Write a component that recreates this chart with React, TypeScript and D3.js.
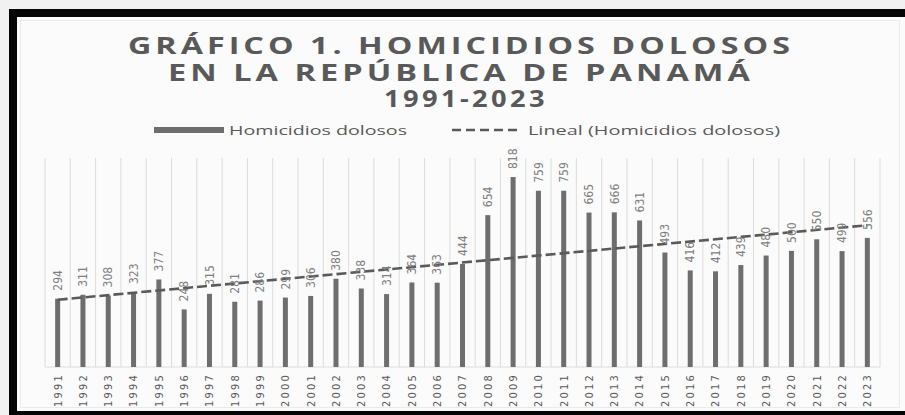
import { useMemo } from "react";
import * as d3 from "d3";

// Years and yearly counts
const years = [
  "1991", "1992", "1993", "1994", "1995", "1996", "1997", "1998", "1999", "2000",
  "2001", "2002", "2003", "2004", "2005", "2006", "2007", "2008", "2009", "2010",
  "2011", "2012", "2013", "2014", "2015", "2016", "2017", "2018", "2019", "2020",
  "2021", "2022", "2023",
];
const homicidios = [
  294, 311, 308, 323, 377, 248, 315, 281, 286, 299,
  306, 380, 338, 314, 364, 363, 444, 654, 818, 759,
  759, 665, 666, 631, 493, 416, 412, 439, 480, 500,
  550, 499, 556,
];
const titleLines = [
  "GRÁFICO 1. HOMICIDIOS DOLOSOS",
  "EN LA REPÚBLICA DE PANAMÁ",
  "1991-2023",
];
const legendLabels = ["Homicidios dolosos", "Lineal (Homicidios dolosos)"];

const W = 905;
const H = 415;
const plot = { left: 45, right: 880, top: 158, bottom: 367 };

const BAR = "#6e6e6e";
const TEXT = "#595959";
const LABEL = "#7f7f7f";
const GRID = "#dcdcdc";
const NARROW = "'Liberation Sans Narrow', 'DejaVu Sans Condensed', 'Roboto Condensed', Roboto, sans-serif";

// the source image is stretched sideways, so title/legend widths are forced
const titleLayout = [
  { cx: 461, y: 54, len: 666 },
  { cx: 461, y: 81, len: 586 },
  { cx: 466, y: 107, len: 164 },
];

export default function App() {
  const x = useMemo(
    () => d3.scaleBand<string>().domain(years).range([plot.left, plot.right]).padding(0),
    []
  );
  const y = useMemo(
    () => d3.scaleLinear().domain([0, 900]).range([plot.bottom, plot.top]),
    []
  );

  // Excel-style linear trendline (least squares over 1..n)
  const trend = useMemo(() => {
    const n = homicidios.length;
    const xs = d3.range(1, n + 1);
    const mx = d3.mean(xs)!;
    const my = d3.mean(homicidios)!;
    const slope =
      d3.sum(xs, (v, i) => (v - mx) * (homicidios[i] - my)) /
      d3.sum(xs, (v) => (v - mx) ** 2);
    const at = (i: number) => my + slope * (i + 1 - mx);
    return [
      [x(years[0])! + x.bandwidth() / 2, y(at(0))],
      [x(years[n - 1])! + x.bandwidth() / 2, y(at(n - 1))],
    ] as [number, number][];
  }, [x, y]);

  const bw = x.bandwidth();
  const barW = 5;
  const gridXs = [...years.map((d) => x(d)!), plot.right];

  return (
    <div style={{ position: "absolute", left: 0, top: 0 }}>
      <svg width={W} height={H} style={{ display: "block" }}>
        <rect x={0} y={0} width={W} height={H} fill="#f1f1f1" />
        {/* black frame */}
        <rect x={9} y={9} width={W - 9} height={H - 9} fill="#050505" />
        <rect x={17} y={17} width={W - 17} height={H - 21} fill="#fbfbfb" />
        <rect x={20.5} y={20.5} width={W - 26} height={H - 28} fill="none" stroke="#ebebeb" />

        {/* title */}
        {titleLines.map((t, i) => (
          <text
            key={t}
            x={titleLayout[i].cx - titleLayout[i].len / 2}
            y={titleLayout[i].y}
            textLength={titleLayout[i].len}
            lengthAdjust="spacingAndGlyphs"
            fontFamily="'Open Sans', 'Noto Sans', sans-serif"
            fontWeight={700}
            fontSize={24}
            fill={TEXT}
            letterSpacing={3}
          >
            {t}
          </text>
        ))}

        {/* legend */}
        <rect x={154} y={127} width={70} height={6} fill={BAR} />
        <text
          x={229}
          y={135}
          textLength={178}
          lengthAdjust="spacingAndGlyphs"
          fontFamily="'Open Sans', sans-serif"
          fontSize={13}
          fill={TEXT}
        >
          {legendLabels[0]}
        </text>
        <line x1={452} x2={521} y1={130} y2={130} stroke={TEXT} strokeWidth={2.5} strokeDasharray="9,5" />
        <text
          x={528}
          y={135}
          textLength={252}
          lengthAdjust="spacingAndGlyphs"
          fontFamily="'Open Sans', sans-serif"
          fontSize={13}
          fill={TEXT}
        >
          {legendLabels[1]}
        </text>

        {/* gridlines */}
        {gridXs.map((gx, i) => (
          <line key={i} x1={gx} x2={gx} y1={plot.top} y2={plot.bottom} stroke={GRID} strokeWidth={1} />
        ))}
        <line x1={plot.left} x2={plot.right} y1={plot.bottom} y2={plot.bottom} stroke={GRID} />

        {/* bars */}
        {years.map((yr, i) => (
          <rect
            key={yr}
            x={x(yr)! + bw / 2 - barW / 2}
            y={y(homicidios[i])}
            width={barW}
            height={plot.bottom - y(homicidios[i])}
            fill={BAR}
          />
        ))}

        {/* trendline */}
        <path
          d={d3.line()(trend) ?? ""}
          fill="none"
          stroke="#5a5a5a"
          strokeWidth={2.6}
          strokeDasharray="10,4"
        />

        {/* data labels */}
        {years.map((yr, i) => {
          const cx = x(yr)! + bw / 2;
          const ty = y(homicidios[i]) - 8;
          return (
            <text
              key={"l" + yr}
              transform={`translate(${cx},${ty}) rotate(-90)`}
              dy="0.35em"
              fontFamily={NARROW}
              fontSize={12}
              fill={LABEL}
            >
              {homicidios[i]}
            </text>
          );
        })}

        {/* x axis labels */}
        {years.map((yr) => {
          const cx = x(yr)! + bw / 2;
          return (
            <text
              key={"x" + yr}
              transform={`translate(${cx},${373}) rotate(-90)`}
              textAnchor="end"
              dy="0.35em"
              fontFamily={NARROW}
              fontSize={11}
              letterSpacing={2.2}
              fill={TEXT}
            >
              {yr}
            </text>
          );
        })}
      </svg>
    </div>
  );
}
